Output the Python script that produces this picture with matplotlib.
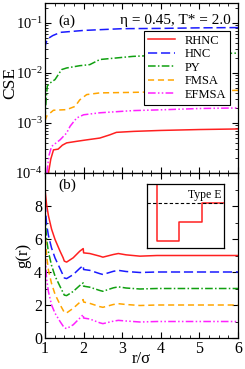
import numpy as np
import matplotlib
matplotlib.use("Agg")
import matplotlib.pyplot as plt
from matplotlib.ticker import MultipleLocator, LogLocator, NullFormatter

plt.rcParams['font.family'] = ['Liberation Serif', 'DejaVu Serif']
plt.rcParams['mathtext.fontset'] = 'stix'

models = ["RHNC", "HNC", "PY", "FMSA", "EFMSA"]
colors = ["#ff2020", "#1a1aff", "#10a010", "#ffa500", "#ff20ff"]
styles = ["-", (0, (6, 2.5)), (0, (5, 1.5, 1, 1.5)), (0, (4, 2.5)), (0, (5, 1.5, 1, 1.5, 1, 1.5))]

# CSE panel (a)
r_cse = {
    "RHNC": [1.09, 1.15, 1.22, 1.34, 1.45, 1.56, 1.82, 2.08, 2.42, 2.68, 2.85, 3.3, 4.0, 5.0, 6.0],
    "HNC": [1.0, 1.01, 1.05, 1.1, 1.2, 1.4, 2.0, 3.0, 4.0, 5.0, 6.0],
    "PY": [1.0, 1.03, 1.06, 1.13, 1.26, 1.43, 1.56, 1.9, 2.16, 2.42, 2.85, 3.28, 4.15, 5.0, 6.0],
    "FMSA": [1.0, 1.05, 1.22, 1.56, 1.78, 1.9, 2.08, 2.42, 3.28, 4.5, 6.0],
    "EFMSA": [1.05, 1.1, 1.17, 1.39, 1.56, 1.65, 1.82, 2.0, 2.42, 3.28, 4.15, 5.0, 6.0],
}
cse = {
    "RHNC": [1.0e-4, 1.9e-4, 2.9e-4, 3.0e-4, 3.6e-4, 4.0e-4, 4.3e-4, 4.6e-4, 5.0e-4, 5.8e-4, 6.5e-4, 6.8e-4, 7.1e-4, 7.4e-4, 7.6e-4],
    "HNC": [0.016, 0.036, 0.045, 0.050, 0.056, 0.065, 0.071, 0.077, 0.078, 0.080, 0.081],
    "PY": [1.2e-3, 3.0e-3, 5.5e-3, 6.3e-3, 7.4e-3, 1.17e-2, 1.26e-2, 1.40e-2, 1.47e-2, 1.86e-2, 2.0e-2, 2.15e-2, 2.3e-2, 2.4e-2, 2.5e-2],
    "FMSA": [1.1e-3, 1.4e-3, 1.8e-3, 1.85e-3, 2.15e-3, 2.9e-3, 3.7e-3, 4.0e-3, 4.1e-3, 4.3e-3, 4.5e-3],
    "EFMSA": [1.0e-4, 2.2e-4, 3.4e-4, 4.6e-4, 6.3e-4, 8.6e-4, 1.26e-3, 1.46e-3, 1.6e-3, 1.77e-3, 1.85e-3, 1.95e-3, 2.0e-3],
}

# g(r) panel (b)
r_g = [1.0, 1.04, 1.09, 1.17, 1.26, 1.39, 1.47, 1.5, 1.56, 1.73, 1.9, 1.99, 2.0, 2.16, 2.42, 2.5, 2.77, 2.9, 3.1, 3.46, 3.9, 4.5, 5.0, 6.0]
g = {
    "RHNC": [5.0, 4.1, 3.4, 2.6, 1.97, 1.26, 0.86, 0.66, 0.60, 0.86, 1.26, 1.42, 1.16, 1.12, 0.96, 0.90, 1.06, 1.12, 1.04, 0.96, 1.00, 1.00, 1.00, 1.00],
    "HNC": [5.2, 3.9, 3.2, 2.45, 1.85, 1.2, 0.8, 0.64, 0.60, 0.84, 1.22, 1.39, 1.15, 1.10, 0.90, 0.85, 1.04, 1.10, 1.03, 0.97, 1.00, 1.00, 1.00, 1.00],
    "PY": [5.5, 4.0, 3.2, 2.4, 1.75, 1.12, 0.74, 0.60, 0.57, 0.82, 1.18, 1.34, 1.14, 1.08, 0.88, 0.83, 1.04, 1.10, 1.03, 0.97, 1.00, 1.00, 1.00, 1.00],
    "FMSA": [5.6, 4.0, 3.1, 2.3, 1.65, 1.02, 0.68, 0.55, 0.52, 0.80, 1.16, 1.33, 1.18, 1.10, 0.90, 0.86, 1.03, 1.08, 1.03, 0.97, 1.00, 1.00, 1.00, 1.00],
    "EFMSA": [5.2, 3.6, 2.8, 2.0, 1.5, 1.0, 0.72, 0.62, 0.57, 0.80, 1.20, 1.42, 1.21, 1.15, 0.92, 0.87, 1.02, 1.07, 1.03, 0.97, 1.00, 1.00, 1.00, 1.00],
}
offsets = [4, 3, 2, 1, 0]

# Inset potential (Type E)
r_pot = [1.0, 1.0, 1.5, 1.5, 2.0, 2.0, 2.5]
u_pot = [1.1, -2.0, -2.0, -1.0, -1.0, 0.0, 0.0]

W, H = 245, 369
fig = plt.figure(figsize=(W/100, H/100), dpi=100)
ax1 = fig.add_axes([45/W, 1-173/H, 193/W, 170/H])
ax2 = fig.add_axes([45/W, 1-338/H, 193/W, 165/H])

for m, c, ls in zip(models, colors, styles):
    ax1.plot(r_cse[m], cse[m], color=c, ls=ls, lw=1.1, label=m)
ax1.set_yscale('log')
ax1.set_xlim(1, 6)
ax1.set_ylim(1e-4, 10**-0.6)
ax1.yaxis.set_major_locator(LogLocator(base=10, numticks=10))
ax1.yaxis.set_minor_locator(LogLocator(base=10, subs=np.arange(2, 10), numticks=10))
ax1.yaxis.set_minor_formatter(NullFormatter())
ax1.xaxis.set_major_locator(MultipleLocator(1))
ax1.xaxis.set_minor_locator(MultipleLocator(0.25))
ax1.tick_params(labelbottom=False)
ax1.text(0.07, 0.93, "(a)", transform=ax1.transAxes, fontsize=11, va='top')
ax1.text(0.965, 0.935, "η = 0.45, T* = 2.0", transform=ax1.transAxes, fontsize=11, va='top', ha='right')
leg = ax1.legend(loc='upper right', bbox_to_anchor=(0.96, 0.835), fontsize=9, frameon=True,
                 fancybox=False, edgecolor='black', framealpha=1, handlelength=2.2,
                 borderpad=0.3, labelspacing=0.12, handletextpad=0.8, borderaxespad=0)
leg.get_frame().set_linewidth(0.8)

for m, c, ls, off in zip(models, colors, styles, offsets):
    ax2.plot(r_g, np.array(g[m]) + off, color=c, ls=ls, lw=1.1)
ax2.set_xlim(1, 6)
ax2.set_ylim(0, 10)
ax2.set_yticks([0, 2, 4, 6, 8])
ax2.yaxis.set_minor_locator(MultipleLocator(1))
ax2.xaxis.set_major_locator(MultipleLocator(1))
ax2.xaxis.set_minor_locator(MultipleLocator(0.25))
ax2.text(0.07, 0.965, "(b)", transform=ax2.transAxes, fontsize=11, va='top')

for ax in (ax1, ax2):
    ax.tick_params(which='both', direction='in', top=True, right=True, labelsize=11.5, pad=2)
    ax.tick_params(which='major', length=4)
    ax.tick_params(which='minor', length=2)
    for s in ax.spines.values():
        s.set_linewidth(0.9)
ax1.tick_params(axis='y', labelsize=10.5, pad=1.5)

fig.text(10/W, 1-83/H, "CSE", rotation=90, fontsize=12.5, ha='center', va='center')
fig.text(23/W, 1-255/H, "g(r)", rotation=90, fontsize=12, ha='center', va='center')
fig.text(141/W, 1-359/H, "r/σ", fontsize=12, ha='center', va='center')

axi = fig.add_axes([147/W, 1-248/H, 77/W, 64/H])
axi.plot(r_pot, u_pot, color="#ff2020", lw=1.1)
axi.axhline(0, color='black', ls=(0, (3, 2)), lw=0.8)
axi.set_xlim(0.78, 2.5)
axi.set_ylim(-2.39, 1.02)
axi.set_xticks([]); axi.set_yticks([])
axi.text(0.97, 0.74, "Type E", transform=axi.transAxes, ha='right', va='bottom', fontsize=8.5)
for s in axi.spines.values():
    s.set_linewidth(0.9)

fig.savefig("out.png", dpi=100)
